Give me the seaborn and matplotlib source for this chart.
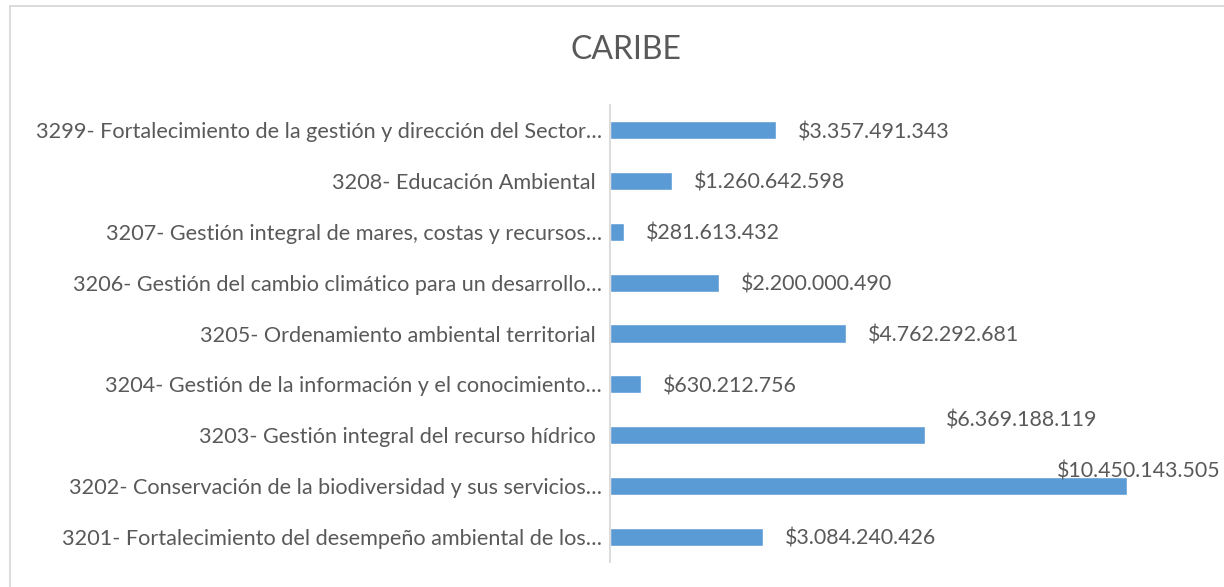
import matplotlib
matplotlib.use('Agg')
import matplotlib.pyplot as plt
import seaborn as sns
from matplotlib.patches import Rectangle

# data, top to bottom as drawn
programas = [
    '3299- Fortalecimiento de la gestión y dirección del Sector…',
    '3208- Educación Ambiental ',
    '3207- Gestión integral de mares, costas y recursos…',
    '3206- Gestión del cambio climático para un desarrollo…',
    '3205- Ordenamiento ambiental territorial ',
    '3204- Gestión de la información y el conocimiento…',
    '3203- Gestión integral del recurso hídrico ',
    '3202- Conservación de la biodiversidad y sus servicios…',
    '3201- Fortalecimiento del desempeño ambiental de los…',
]
valores = [3357491343, 1260642598, 281613432, 2200000490, 4762292681,
           630212756, 6369188119, 10450143505, 3084240426]

sns.set_theme(style='white')
plt.rcParams['font.family'] = ['Lato', 'DejaVu Sans']
text_color = '#595959'

fig = plt.figure(figsize=(12.24, 5.87), dpi=100)
ax = fig.add_axes([610 / 1224, 1 - 562.4 / 587, (1200 - 610) / 1224, (562.4 - 104.6) / 587])

sns.barplot(x=valores, y=programas, orient='h', color='#5B9BD5', width=0.355,
            saturation=1, ax=ax)

ax.set_xlim(0, (1200 - 610) / 49.5 * 1e9)
ax.set_ylim(8.5, -0.5)
ax.set_xlabel('')
ax.set_ylabel('')
ax.set_xticks([])
for s in ['top', 'right', 'bottom']:
    ax.spines[s].set_visible(False)
ax.spines['left'].set_color('#D9D9D9')
ax.spines['left'].set_linewidth(1.3)
ax.tick_params(axis='y', left=False, pad=0, labelsize=15.6, labelcolor=text_color)

# value labels (the two largest sit above their bars)
px = 0.72
for i, v in enumerate(valores):
    txt = '$' + f'{v:,}'.replace(',', '.')
    if i == 6:
        off = (21 * px, 15 * px)
    elif i == 7:
        off = (-70 * px, 15 * px)
    else:
        off = (22 * px, -2 * px)
    ax.annotate(txt, xy=(v, i), xytext=off, textcoords='offset points',
                ha='left', va='center', fontsize=15.4, color=text_color,
                annotation_clip=False)

fig.text(626 / 1224, 1 - 50 / 587, 'CARIBE', ha='center', va='center',
         fontsize=23, color=text_color)

fig.add_artist(Rectangle((9.5 / 1224, -0.1), 1.2, 1.1 - 5.5 / 587,
                         transform=fig.transFigure, fill=False,
                         edgecolor='#D9D9D9', linewidth=1.3))

fig.savefig('out.png', dpi=100, facecolor='white')
